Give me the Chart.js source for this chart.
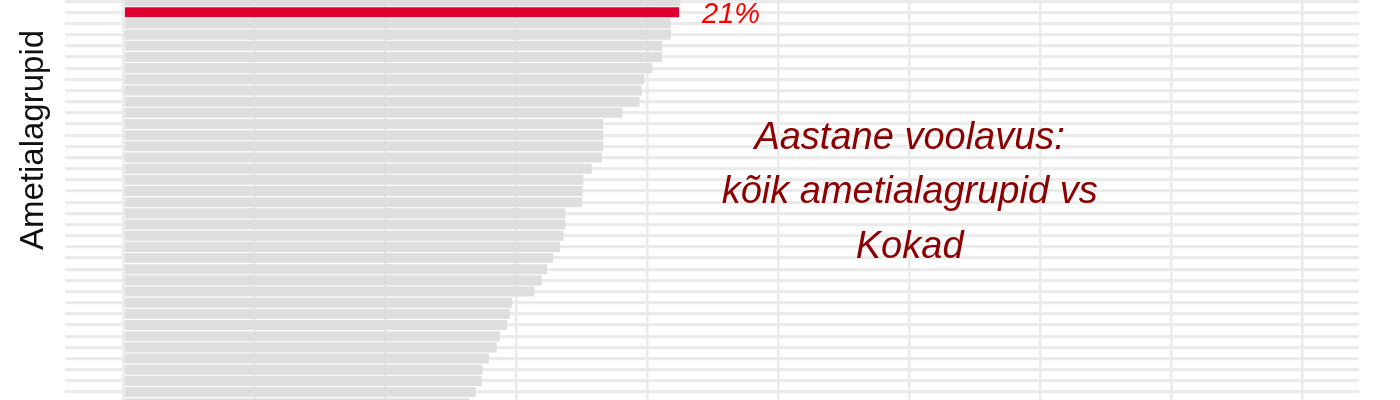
<!DOCTYPE html>
<html lang="et">
<head>
<meta charset="utf-8">
<title>Aastane voolavus</title>
<script src="https://cdn.jsdelivr.net/npm/chart.js@4"></script>
<style>
  html, body { margin: 0; padding: 0; background: #fff; }
  #wrap { position: relative; width: 1400px; height: 400px; }
</style>
</head>
<body>
<div id="wrap"><canvas id="chart"></canvas></div>
<script>
/* ========= Data ========= */
// rows from top to bottom; only a slice of all groups is visible in the picture
const categories = [
  'Ametialagrupp 1', 'Kokad', 'Ametialagrupp 3', 'Ametialagrupp 4', 'Ametialagrupp 5',
  'Ametialagrupp 6', 'Ametialagrupp 7', 'Ametialagrupp 8', 'Ametialagrupp 9', 'Ametialagrupp 10',
  'Ametialagrupp 11', 'Ametialagrupp 12', 'Ametialagrupp 13', 'Ametialagrupp 14', 'Ametialagrupp 15',
  'Ametialagrupp 16', 'Ametialagrupp 17', 'Ametialagrupp 18', 'Ametialagrupp 19', 'Ametialagrupp 20',
  'Ametialagrupp 21', 'Ametialagrupp 22', 'Ametialagrupp 23', 'Ametialagrupp 24', 'Ametialagrupp 25',
  'Ametialagrupp 26', 'Ametialagrupp 27', 'Ametialagrupp 28', 'Ametialagrupp 29', 'Ametialagrupp 30',
  'Ametialagrupp 31', 'Ametialagrupp 32', 'Ametialagrupp 33', 'Ametialagrupp 34', 'Ametialagrupp 35',
  'Ametialagrupp 36', 'Ametialagrupp 37'
];
// annual turnover, %
const turnover = [
  21.25, 21.20, 20.88, 20.88, 20.56, 20.54, 20.18, 19.88, 19.78, 19.69,
  19.04, 18.30, 18.30, 18.30, 18.25, 17.87, 17.55, 17.52, 17.50, 16.86,
  16.86, 16.79, 16.66, 16.39, 16.16, 15.96, 15.68, 14.83, 14.74, 14.64,
  14.36, 14.24, 13.94, 13.70, 13.67, 13.44, 13.20
];
const highlight = 'Kokad';
const xTicks = [0, 5, 10, 15, 20, 25, 30, 35, 40, 45];
const titleLines = ['Aastane voolavus:', 'kõik ametialagrupid vs', 'Kokad'];
const yTitle = 'Ametialagrupid';

/* ========= Styles ========= */
const FONT   = '"Liberation Sans", Arial, sans-serif';
const GRAY   = '#DEDEDE';
const RED    = '#E0002F';
const GRID   = '#EBEBEB';

/* ========= Texts drawn over the chart ========= */
const textPlugin = {
  id: 'texts',
  afterDraw(chart) {
    const { ctx, scales: { x, y } } = chart;
    ctx.save();

    // value label next to the highlighted bar
    const i = categories.indexOf(highlight);
    const bar = chart.getDatasetMeta(0).data[i];
    ctx.font = `italic 29px ${FONT}`;
    ctx.fillStyle = '#FF0000';
    ctx.textAlign = 'left';
    ctx.textBaseline = 'alphabetic';
    ctx.fillText(Math.round(turnover[i]) + '%', bar.x + 23, bar.y + 10.4);

    // annotation in the middle of the panel
    ctx.font = `italic 38px ${FONT}`;
    ctx.fillStyle = '#8B0000';
    ctx.textAlign = 'center';
    const ax = x.getPixelForValue(30);
    const ay = y.getPixelForValue(18.1);
    titleLines.forEach((line, k) => {
      ctx.fillText(line, ax, ay + (k - 1) * 54.5);
    });

    // y axis title
    ctx.font = `33px ${FONT}`;
    ctx.fillStyle = '#111';
    ctx.translate(43, 140);
    ctx.rotate(-Math.PI / 2);
    ctx.fillText(yTitle, 0, 0);

    ctx.restore();
  }
};

/* ========= Chart ========= */
new Chart(document.getElementById('chart'), {
  type: 'bar',
  data: {
    datasets: [{
      data: turnover.map((v, i) => ({ x: v, y: i })),
      backgroundColor: ctx => categories[ctx.dataIndex] === highlight ? RED : GRAY,
      borderWidth: 0,
      barPercentage: 0.9,
      categoryPercentage: 1,
      clip: 0
    }]
  },
  options: {
    indexAxis: 'y',
    responsive: true,
    maintainAspectRatio: false,
    animation: false,
    layout: { padding: { left: 65, right: 41, top: 0, bottom: 0 } },
    plugins: { legend: { display: false }, tooltip: { enabled: false } },
    scales: {
      x: {
        type: 'linear',
        min: -2.237,
        max: 47.15,
        offset: false,
        z: 1,
        afterBuildTicks: s => { s.ticks = xTicks.map(v => ({ value: v })); },
        ticks: { display: false },
        grid: { color: GRID, lineWidth: 2.6, drawTicks: false, offset: false },
        border: { display: false }
      },
      y: {
        type: 'linear',
        reverse: true,
        min: -0.101,
        max: 35.71,
        offset: false,
        afterBuildTicks: s => { s.ticks = categories.map((_, i) => ({ value: i })); },
        ticks: { display: false },
        grid: { color: GRID, lineWidth: 3.2, drawTicks: false, offset: false },
        border: { display: false }
      }
    }
  },
  plugins: [textPlugin]
});
</script>
</body>
</html>
